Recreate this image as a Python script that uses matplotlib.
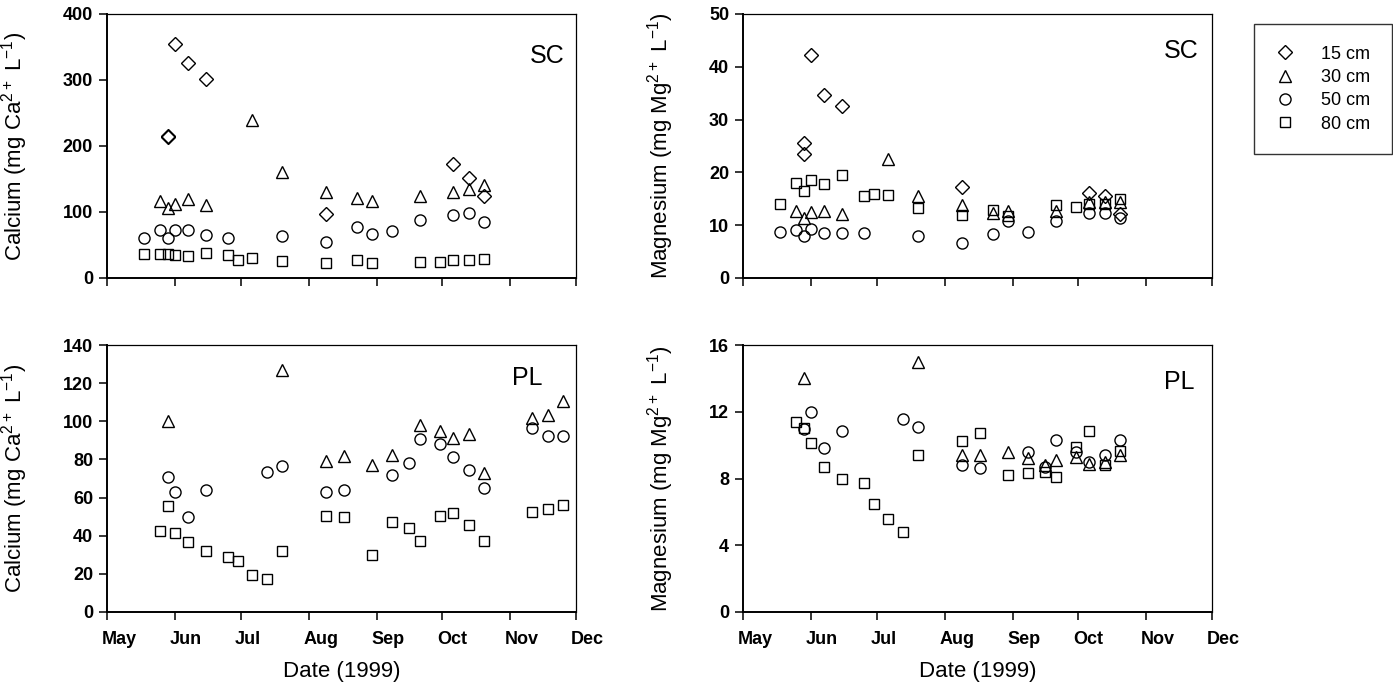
import matplotlib
matplotlib.use("Agg")
import matplotlib.pyplot as plt
import matplotlib.dates as mdates
import matplotlib.transforms as mtrans
import numpy as np

plt.rcParams['font.family'] = ['Liberation Sans', 'DejaVu Sans']
plt.rcParams['mathtext.default'] = 'regular'

# ---- SC site, calcium (mg Ca2+ L-1)
sc_ca_15_d = ['1999-05-29', '1999-05-29', '1999-06-01', '1999-06-07', '1999-06-15',
              '1999-08-09', '1999-10-06', '1999-10-13', '1999-10-20']
sc_ca_15 = [215, 213, 354, 326, 301, 97, 173, 152, 125]
sc_ca_30_d = ['1999-05-25', '1999-05-29', '1999-06-01', '1999-06-07', '1999-06-15',
              '1999-07-06', '1999-07-20', '1999-08-09', '1999-08-23', '1999-08-30',
              '1999-09-21', '1999-10-06', '1999-10-13', '1999-10-20']
sc_ca_30 = [116, 106, 112, 120, 111, 240, 160, 130, 121, 116, 124, 130, 135, 141]
sc_ca_50_d = ['1999-05-18', '1999-05-25', '1999-05-29', '1999-06-01', '1999-06-07',
              '1999-06-15', '1999-06-25', '1999-07-20', '1999-08-09', '1999-08-23',
              '1999-08-30', '1999-09-08', '1999-09-21', '1999-10-06', '1999-10-13',
              '1999-10-20']
sc_ca_50 = [60, 72, 60, 72, 73, 65, 61, 63, 55, 77, 67, 71, 88, 96, 99, 85]
sc_ca_80_d = ['1999-05-18', '1999-05-25', '1999-05-29', '1999-06-01', '1999-06-07',
              '1999-06-15', '1999-06-25', '1999-06-30', '1999-07-06', '1999-07-20',
              '1999-08-09', '1999-08-23', '1999-08-30', '1999-09-21', '1999-09-30',
              '1999-10-06', '1999-10-13', '1999-10-20']
sc_ca_80 = [36, 37, 36, 35, 34, 38, 35, 28, 31, 26, 23, 27, 23, 24, 24, 27, 27, 29]

# ---- SC site, magnesium (mg Mg2+ L-1)
sc_mg_15_d = ['1999-05-29', '1999-05-29', '1999-06-01', '1999-06-07', '1999-06-15',
              '1999-08-09', '1999-10-06', '1999-10-13', '1999-10-20']
sc_mg_15 = [25.5, 23.5, 42.2, 34.6, 32.5, 17.3, 16.1, 15.5, 12.2]
sc_mg_30_d = ['1999-05-25', '1999-05-29', '1999-06-01', '1999-06-07', '1999-06-15',
              '1999-07-06', '1999-07-20', '1999-08-09', '1999-08-23', '1999-08-30',
              '1999-09-21', '1999-10-06', '1999-10-13', '1999-10-20']
sc_mg_30 = [12.6, 11.4, 12.5, 12.7, 12.2, 22.5, 15.5, 13.9, 12.3, 12.7, 12.7, 14.3, 14.4, 14.3]
sc_mg_50_d = ['1999-05-18', '1999-05-25', '1999-05-29', '1999-06-01', '1999-06-07',
              '1999-06-15', '1999-06-25', '1999-07-20', '1999-08-09', '1999-08-23',
              '1999-08-30', '1999-09-08', '1999-09-21', '1999-10-06', '1999-10-13',
              '1999-10-20']
sc_mg_50 = [8.7, 9.0, 7.9, 9.3, 8.5, 8.5, 8.6, 8.0, 6.7, 8.3, 10.8, 8.8, 10.8, 12.4, 12.4, 11.3]
sc_mg_80_d = ['1999-05-18', '1999-05-25', '1999-05-29', '1999-06-01', '1999-06-07',
              '1999-06-15', '1999-06-25', '1999-06-30', '1999-07-06', '1999-07-20',
              '1999-08-09', '1999-08-23', '1999-08-30', '1999-09-21', '1999-09-30',
              '1999-10-06', '1999-10-13', '1999-10-20']
sc_mg_80 = [14.1, 18.0, 16.4, 18.6, 17.8, 19.5, 15.6, 16.0, 15.8, 13.3, 12.0, 12.8, 11.8,
            13.9, 13.5, 14.1, 14.0, 15.0]

# ---- PL site, calcium
pl_ca_30_d = ['1999-05-29', '1999-07-20', '1999-08-09', '1999-08-17', '1999-08-30',
              '1999-09-08', '1999-09-21', '1999-09-30', '1999-10-06', '1999-10-13',
              '1999-10-20', '1999-11-11', '1999-11-18', '1999-11-25']
pl_ca_30 = [100, 127, 79, 82, 77, 82.5, 98, 95, 91, 93.5, 73, 101.7, 103.3, 110.6]
pl_ca_50_d = ['1999-05-29', '1999-06-01', '1999-06-07', '1999-06-15', '1999-07-13',
              '1999-07-20', '1999-08-09', '1999-08-17', '1999-09-08', '1999-09-16',
              '1999-09-21', '1999-09-30', '1999-10-06', '1999-10-13', '1999-10-20',
              '1999-11-11', '1999-11-18', '1999-11-25']
pl_ca_50 = [71, 63, 49.6, 64.2, 73.3, 76.5, 63, 64, 72, 78.2, 90.5, 88.2, 81.2, 74.2, 65,
            96.4, 92.3, 92.3]
pl_ca_80_d = ['1999-05-25', '1999-05-29', '1999-06-01', '1999-06-07', '1999-06-15',
              '1999-06-25', '1999-06-30', '1999-07-06', '1999-07-13', '1999-07-20',
              '1999-08-09', '1999-08-17', '1999-08-30', '1999-09-08', '1999-09-16',
              '1999-09-21', '1999-09-30', '1999-10-06', '1999-10-13', '1999-10-20',
              '1999-11-11', '1999-11-18', '1999-11-25']
pl_ca_80 = [42.6, 55.6, 41.4, 36.8, 32.1, 28.6, 26.5, 19.5, 17.5, 32.1, 50.5, 49.6, 29.8,
            47, 43.9, 37, 50.5, 51.7, 45.6, 37.4, 52.4, 54, 56.1]

# ---- PL site, magnesium
pl_mg_30_d = ['1999-05-29', '1999-07-20', '1999-08-09', '1999-08-17', '1999-08-30',
              '1999-09-08', '1999-09-16', '1999-09-21', '1999-09-30', '1999-10-06',
              '1999-10-13', '1999-10-20']
pl_mg_30 = [14.05, 15.0, 9.4, 9.4, 9.6, 9.25, 8.8, 9.1, 9.3, 8.85, 9.0, 9.4]
pl_mg_50_d = ['1999-05-29', '1999-06-01', '1999-06-07', '1999-06-15', '1999-07-13',
              '1999-07-20', '1999-08-09', '1999-08-17', '1999-09-08', '1999-09-16',
              '1999-09-21', '1999-09-30', '1999-10-06', '1999-10-13', '1999-10-20']
pl_mg_50 = [10.95, 12.0, 9.8, 10.85, 11.55, 11.1, 8.8, 8.6, 9.6, 8.7, 10.3, 9.6, 9.0, 9.4, 10.3]
pl_mg_80_d = ['1999-05-25', '1999-05-29', '1999-06-01', '1999-06-07', '1999-06-15',
              '1999-06-25', '1999-06-30', '1999-07-06', '1999-07-13', '1999-07-20',
              '1999-08-09', '1999-08-17', '1999-08-30', '1999-09-08', '1999-09-16',
              '1999-09-21', '1999-09-30', '1999-10-06', '1999-10-13', '1999-10-20']
pl_mg_80 = [11.4, 11.0, 10.1, 8.7, 8.0, 7.75, 6.5, 5.6, 4.8, 9.4, 10.25, 10.7, 8.2, 8.35,
            8.4, 8.1, 9.9, 10.85, 8.8, 9.65]

depth_labels = ['15 cm', '30 cm', '50 cm', '80 cm']
month_labels = ['May', 'Jun', 'Jul', 'Aug', 'Sep', 'Oct', 'Nov', 'Dec']

styles = {
    '15 cm': dict(marker='D', ms=7.0),
    '30 cm': dict(marker='^', ms=8.0),
    '50 cm': dict(marker='o', ms=8.0),
    '80 cm': dict(marker='s', ms=7.5),
}


def dts(lst):
    return np.array(lst, dtype='datetime64[D]')


fig = plt.figure(figsize=(13.93, 6.90), dpi=100)
W, H = 1393.0, 690.0


def make_ax(x0, x1, ytop, ybot):
    # panel placed in pixel coords of the 1393x690 canvas
    return fig.add_axes([x0 / W, 1 - ybot / H, (x1 - x0) / W, (ybot - ytop) / H])


ax_tl = make_ax(107, 576, 14, 278)
ax_tr = make_ax(743, 1212, 14, 278)
ax_bl = make_ax(107, 576, 345, 612)
ax_br = make_ax(743, 1212, 345, 612)

ca_label = 'Calcium (mg Ca$^{2+}$ L$^{-1}$)'
mg_label = 'Magnesium (mg Mg$^{2+}$ L$^{-1}$)'

panels = [
    (ax_tl, [(sc_ca_15_d, sc_ca_15), (sc_ca_30_d, sc_ca_30), (sc_ca_50_d, sc_ca_50), (sc_ca_80_d, sc_ca_80)],
     400, 100, ca_label, 'SC', (0.938, 0.84), False),
    (ax_tr, [(sc_mg_15_d, sc_mg_15), (sc_mg_30_d, sc_mg_30), (sc_mg_50_d, sc_mg_50), (sc_mg_80_d, sc_mg_80)],
     50, 10, mg_label, 'SC', (0.934, 0.86), False),
    (ax_bl, [None, (pl_ca_30_d, pl_ca_30), (pl_ca_50_d, pl_ca_50), (pl_ca_80_d, pl_ca_80)],
     140, 20, ca_label, 'PL', (0.896, 0.875), True),
    (ax_br, [None, (pl_mg_30_d, pl_mg_30), (pl_mg_50_d, pl_mg_50), (pl_mg_80_d, pl_mg_80)],
     16, 4, mg_label, 'PL', (0.93, 0.86), True),
]

handles = {}
for ax, series, ymax, ystep, ylabel, site, site_xy, show_x in panels:
    for lab, s in zip(depth_labels, series):
        if s is None:
            continue
        h, = ax.plot(dts(s[0]), s[1], linestyle='none', mfc='none', mec='black',
                     mew=1.0, color='black', **styles[lab])
        handles[lab] = h
    ax.set_xlim(np.datetime64('1999-05-01'), np.datetime64('1999-12-01'))
    ax.set_ylim(0, ymax)
    ax.set_yticks(np.arange(0, ymax + ystep, ystep))
    ax.xaxis.set_major_locator(mdates.MonthLocator())
    ax.xaxis.set_major_formatter(mdates.DateFormatter('%b'))
    ax.tick_params(direction='out', length=6, width=1.1, labelsize=13, pad=4)
    ax.tick_params(axis='x', pad=8)
    for lbl in ax.get_yticklabels():
        lbl.set_fontweight('bold')
    if show_x:
        ax.set_xticklabels(month_labels)
        # month names sit just right of their tick
        off = mtrans.ScaledTranslation(-4 / 72, 0, fig.dpi_scale_trans)
        for lbl in ax.get_xticklabels():
            lbl.set_fontweight('bold')
            lbl.set_horizontalalignment('left')
            lbl.set_transform(lbl.get_transform() + off)
        ax.set_xlabel('Date (1999)', fontsize=16, labelpad=9)
    else:
        ax.tick_params(axis='x', labelbottom=False)
    ax.set_ylabel(ylabel, fontsize=16)
    ax.yaxis.set_label_coords(-0.143 if ax in (ax_tr, ax_br) else -0.164, 0.5)
    for sp in ['left', 'bottom']:
        ax.spines[sp].set_linewidth(1.4)
    for sp in ['top', 'right']:
        ax.spines[sp].set_linewidth(0.9)
    ax.text(site_xy[0], site_xy[1], site, transform=ax.transAxes, fontsize=18,
            ha='center', va='center')

leg = fig.legend([handles[l] for l in depth_labels], depth_labels,
                 loc='upper left', bbox_to_anchor=(1254 / W, 1 - 24 / H),
                 frameon=True, fancybox=False, edgecolor='black', fontsize=13,
                 handlelength=1.0, handletextpad=1.5, borderpad=1.2,
                 labelspacing=0.35, borderaxespad=0)
leg.get_frame().set_linewidth(1.0)

fig.savefig('out.png', dpi=100)
